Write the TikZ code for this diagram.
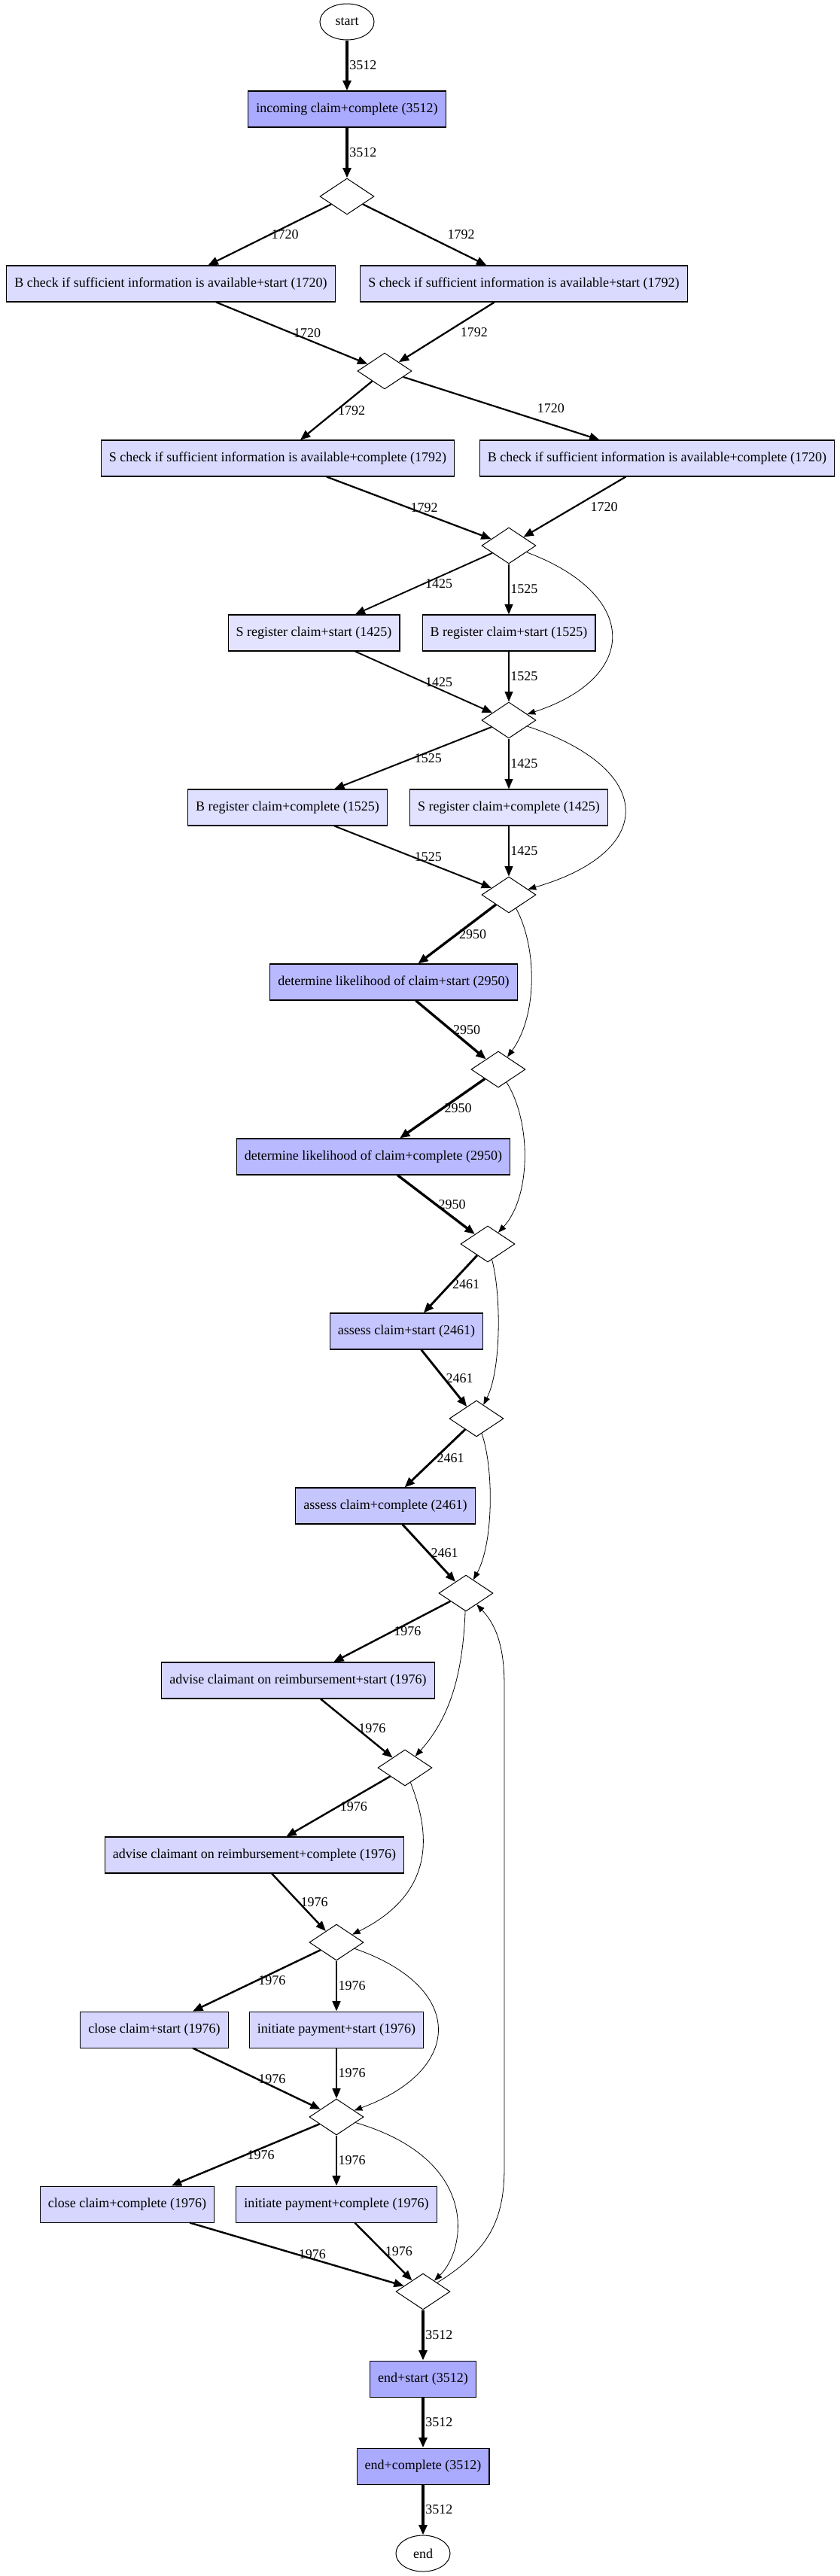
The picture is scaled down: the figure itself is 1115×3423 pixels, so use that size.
\documentclass[tikz,border=0pt]{standalone}
\usepackage{fontspec}
\setmainfont{Liberation Serif}
\usetikzlibrary{arrows.meta,shapes.geometric}

\definecolor{f3512}{RGB}{170,170,255}
\definecolor{f2950}{RGB}{185,185,255}
\definecolor{f2461}{RGB}{198,198,255}
\definecolor{f1976}{RGB}{214,214,255}
\definecolor{f1792}{RGB}{218,218,255}
\definecolor{f1720}{RGB}{220,220,255}
\definecolor{f1525}{RGB}{223,223,255}
\definecolor{f1425}{RGB}{227,227,255}

\tikzset{
  event/.style={draw, line width=0.8pt, minimum height=36pt, inner xsep=8pt,
    font=\fontsize{13.5}{16}\selectfont},
  gate/.style={diamond, draw, fill=white, line width=0.75pt, minimum width=54pt,
    minimum height=36pt, inner sep=0pt},
  terminal/.style={ellipse, draw, line width=0.75pt, minimum width=54pt,
    minimum height=36pt, font=\fontsize{13.5}{16}\selectfont},
  flow/.style={-{Triangle[length=10pt,width=8pt]}, line width=0.4pt+#1pt/1400},
  skip/.style={-{Triangle[length=8pt,width=6pt]}, line width=0.6pt},
  lbl/.style={midway, anchor=west, inner sep=1pt, font=\fontsize{13.5}{16}\selectfont}
}

\begin{document}
\begin{tikzpicture}[x=0.75pt, y=-0.75pt]
\useasboundingbox (0,0) rectangle (1115,3423);

\node[terminal] (start) at (461,29) {start};
\node[event, fill=f3512] (inc) at (461,145) {incoming claim+complete (3512)};
\node[gate] (g1) at (461,261) {};
\node[event, fill=f1720] (bcs) at (227,377) {B check if sufficient information is available+start (1720)};
\node[event, fill=f1792] (scs) at (696,377) {S check if sufficient information is available+start (1792)};
\node[gate] (g2) at (511,493) {};
\node[event, fill=f1792] (scc) at (369,609) {S check if sufficient information is available+complete (1792)};
\node[event, fill=f1720] (bcc) at (873,609) {B check if sufficient information is available+complete (1720)};
\node[gate] (g3) at (676,725) {};
\node[event, fill=f1425] (srs) at (417,841) {S register claim+start (1425)};
\node[event, fill=f1525] (brs) at (676,841) {B register claim+start (1525)};
\node[gate] (g4) at (676,957) {};
\node[event, fill=f1525] (brc) at (382,1073) {B register claim+complete (1525)};
\node[event, fill=f1425] (src) at (676,1073) {S register claim+complete (1425)};
\node[gate] (g5) at (676,1189) {};
\node[event, fill=f2950] (dls) at (523,1305) {determine likelihood of claim+start (2950)};
\node[gate] (g6) at (662,1421) {};
\node[event, fill=f2950] (dlc) at (496,1537) {determine likelihood of claim+complete (2950)};
\node[gate] (g7) at (648,1653) {};
\node[event, fill=f2461] (acs) at (540,1769) {assess claim+start (2461)};
\node[gate] (g8) at (633,1885) {};
\node[event, fill=f2461] (acc) at (512,2001) {assess claim+complete (2461)};
\node[gate] (g9) at (619,2117) {};
\node[event, fill=f1976] (ads) at (396,2233) {advise claimant on reimbursement+start (1976)};
\node[gate] (g10) at (538,2349) {};
\node[event, fill=f1976] (adc) at (338,2465) {advise claimant on reimbursement+complete (1976)};
\node[gate] (g11) at (447,2581) {};
\node[event, fill=f1976] (ccs) at (205,2697) {close claim+start (1976)};
\node[event, fill=f1976] (ips) at (447,2697) {initiate payment+start (1976)};
\node[gate] (g12) at (447,2813) {};
\node[event, fill=f1976] (ccc) at (169,2929) {close claim+complete (1976)};
\node[event, fill=f1976] (ipc) at (447,2929) {initiate payment+complete (1976)};
\node[gate] (g13) at (562,3045) {};
\node[event, fill=f3512] (es) at (562,3161) {end+start (3512)};
\node[event, fill=f3512] (ec) at (562,3277) {end+complete (3512)};
\node[terminal] (stop) at (562,3393) {end};

\draw[flow=3512] (start) -- (inc) node[lbl]{3512};
\draw[flow=3512] (inc) -- (g1) node[lbl]{3512};
\draw[flow=1720] (g1) -- (bcs) node[lbl]{1720};
\draw[flow=1792] (g1) -- (scs) node[lbl, xshift=21pt]{1792};
\draw[flow=1720] (bcs) -- (g2) node[lbl]{1720};
\draw[flow=1792] (scs) -- (g2) node[lbl, xshift=12pt]{1792};
\draw[flow=1792] (g2) -- (scc) node[lbl]{1792};
\draw[flow=1720] (g2) -- (bcc) node[lbl, xshift=34pt]{1720};
\draw[flow=1792] (scc) -- (g3) node[lbl]{1792};
\draw[flow=1720] (bcc) -- (g3) node[lbl, xshift=14pt]{1720};

\draw[flow=1425] (g3) -- (srs) node[lbl]{1425};
\draw[flow=1525] (g3) -- (brs) node[lbl]{1525};
\draw[skip] (g3) .. controls (850,790) and (850,900) .. (g4);
\draw[flow=1425] (srs) -- (g4) node[lbl]{1425};
\draw[flow=1525] (brs) -- (g4) node[lbl]{1525};
\draw[flow=1525] (g4) -- (brc) node[lbl]{1525};
\draw[flow=1425] (g4) -- (src) node[lbl]{1425};
\draw[skip] (g4) .. controls (873,1022) and (873,1132) .. (g5);
\draw[flow=1525] (brc) -- (g5) node[lbl]{1525};
\draw[flow=1425] (src) -- (g5) node[lbl]{1425};

\draw[flow=2950] (g5) -- (dls) node[lbl]{2950};
\draw[skip] (g5) .. controls (714,1260) and (714,1350) .. (g6);
\draw[flow=2950] (dls) -- (g6) node[lbl]{2950};
\draw[flow=2950] (g6) -- (dlc) node[lbl]{2950};
\draw[skip] (g6) .. controls (706,1490) and (706,1590) .. (g7);
\draw[flow=2950] (dlc) -- (g7) node[lbl]{2950};
\draw[flow=2461] (g7) -- (acs) node[lbl]{2461};
\draw[skip] (g7) .. controls (666,1720) and (666,1820) .. (g8);
\draw[flow=2461] (acs) -- (g8) node[lbl]{2461};
\draw[flow=2461] (g8) -- (acc) node[lbl]{2461};
\draw[skip] (g8) .. controls (656,1950) and (656,2050) .. (g9);
\draw[flow=2461] (acc) -- (g9) node[lbl]{2461};

\draw[flow=1976] (g9) -- (ads) node[lbl]{1976};
\draw[skip] (g9) .. controls (615,2220) and (600,2280) .. (g10);
\draw[flow=1976] (ads) -- (g10) node[lbl]{1976};
\draw[flow=1976] (g10) -- (adc) node[lbl]{1976};
\draw[skip] (g10) .. controls (565,2420) and (590,2510) .. (g11);
\draw[flow=1976] (adc) -- (g11) node[lbl]{1976};
\draw[flow=1976] (g11) -- (ccs) node[lbl]{1976};
\draw[flow=1976] (g11) -- (ips) node[lbl]{1976};
\draw[skip] (g11) .. controls (618,2640) and (618,2750) .. (g12);
\draw[flow=1976] (ccs) -- (g12) node[lbl]{1976};
\draw[flow=1976] (ips) -- (g12) node[lbl]{1976};
\draw[flow=1976] (g12) -- (ccc) node[lbl]{1976};
\draw[flow=1976] (g12) -- (ipc) node[lbl]{1976};
\draw[skip] (g12) .. controls (640,2870) and (619,2990) .. (g13);
\draw[flow=1976] (ccc) -- (g13) node[lbl]{1976};
\draw[flow=1976] (ipc) -- (g13) node[lbl]{1976};
\draw[skip] (g13) .. controls (650,2990) and (670,2950) .. (670,2880)
  -- (670,2240) .. controls (670,2190) and (660,2160) .. (g9);

\draw[flow=3512] (g13) -- (es) node[lbl]{3512};
\draw[flow=3512] (es) -- (ec) node[lbl]{3512};
\draw[flow=3512] (ec) -- (stop) node[lbl]{3512};
\end{tikzpicture}
\end{document}
